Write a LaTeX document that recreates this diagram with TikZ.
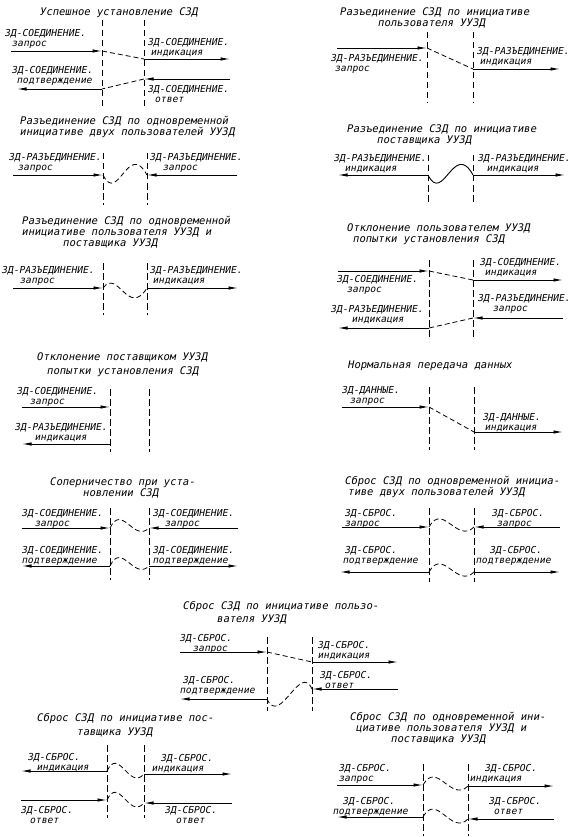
\documentclass[tikz,border=0pt]{standalone}
\usepackage{fontspec}
\newfontfamily\gost{DejaVu Sans Mono}
\usetikzlibrary{arrows.meta}

\begin{document}
\begin{tikzpicture}[x=1pt, y=-1pt,
    every node/.style={inner sep=0pt},
    ttl/.style={font=\gost\itshape\fontsize{10.5}{11}\selectfont, align=left, anchor=north west},
    lbl/.style={font=\gost\itshape\fontsize{9.6}{10}\selectfont, align=left, anchor=north west},
    vline/.style={line width=0.6pt, dash pattern=on 6.5pt off 3.5pt},
    msg/.style={-{Latex[length=9.5pt,width=3.4pt]}, line width=0.9pt},
    link/.style={line width=0.8pt, dash pattern=on 5pt off 3pt},
  ]
  \useasboundingbox[fill=white] (0,0) rectangle (586,837);

  % Успешное установление
  \node[ttl] (aT) at (40,8) {Успешное установление СЗД};
  \coordinate (aP) at (102,20); \coordinate (aQ) at (102,108);
  \coordinate (aR) at (144,20); \coordinate (aS) at (144,108);
  \draw[vline] (aP) -- (aQ); \draw[vline] (aR) -- (aS);
  \coordinate (a1) at (11,51);  \coordinate (a2) at (102,51);
  \coordinate (a3) at (144,59); \coordinate (a4) at (230,59);
  \coordinate (a5) at (230,79); \coordinate (a6) at (144,79);
  \coordinate (a7) at (102,89); \coordinate (a8) at (17,89);
  \draw[msg] (a1) -- (a2); \draw[link] (a2) -- (a3); \draw[msg] (a3) -- (a4);
  \draw[msg] (a5) -- (a6); \draw[link] (a6) -- (a7); \draw[msg] (a7) -- (a8);
  \node[lbl] (aA) at (5,29.5) {ЗД-СОЕДИНЕНИЕ.\\\hspace*{7pt}запрос};
  \node[lbl] (aB) at (148,38.5) {ЗД-СОЕДИНЕНИЕ.\\\hspace*{3pt}индикация};
  \node[lbl] (aC) at (12,66.5) {ЗД-СОЕДИНЕНИЕ.\\\hspace*{5pt}подтверждение};
  \node[lbl] (aD) at (148,85.5) {ЗД-СОЕДИНЕНИЕ.\\\hspace*{7pt}ответ};

  % Разъединение по инициативе пользователя
  \node[ttl] (bT) at (340,8) {Разъединение СЗД по инициативе\\\hspace*{38pt}пользователя УУЗД};
  \coordinate (bP) at (427,32); \coordinate (bQ) at (427,103);
  \coordinate (bR) at (473,32); \coordinate (bS) at (473,103);
  \draw[vline] (bP) -- (bQ); \draw[vline] (bR) -- (bS);
  \coordinate (b1) at (337,48); \coordinate (b2) at (427,48);
  \coordinate (b3) at (473,69); \coordinate (b4) at (560,69);
  \draw[msg] (b1) -- (b2); \draw[link] (b2) -- (b3); \draw[msg] (b3) -- (b4);
  \node[lbl] (bA) at (331,54.5) {ЗД-РАЗЪЕДИНЕНИЕ.\\\hspace*{4pt}запрос};
  \node[lbl] (bB) at (477,47.5) {ЗД-РАЗЪЕДИНЕНИЕ.\\\hspace*{3pt}индикация};

  % Разъединение двух пользователей
  \node[ttl] (cT) at (20,116) {Разъединение СЗД по одновременной\\инициативе двух пользователей УУЗД};
  \coordinate (cP) at (103,153); \coordinate (cQ) at (103,205);
  \coordinate (cR) at (147,153); \coordinate (cS) at (147,205);
  \draw[vline] (cP) -- (cQ); \draw[vline] (cR) -- (cS);
  \coordinate (c1) at (13,175);  \coordinate (c2) at (103,175);
  \coordinate (c3) at (237,175); \coordinate (c4) at (147,175);
  \draw[msg] (c1) -- (c2); \draw[msg] (c3) -- (c4);
  \draw[link] (c2) .. controls +(15,30) and +(-19,-35) .. (c4);
  \node[lbl] (cA) at (9,153.5) {ЗД-РАЗЪЕДИНЕНИЕ.\\\hspace*{9pt}запрос};
  \node[lbl] (cB) at (150,153.5) {ЗД-РАЗЪЕДИНЕНИЕ.\\\hspace*{13pt}запрос};

  % Разъединение по инициативе поставщика
  \node[ttl] (dT) at (347,125) {Разъединение СЗД по инициативе\\\hspace*{30pt}поставщика УУЗД};
  \coordinate (dP) at (428,155); \coordinate (dQ) at (428,203);
  \coordinate (dR) at (473,155); \coordinate (dS) at (473,203);
  \draw[vline] (dP) -- (dQ); \draw[vline] (dR) -- (dS);
  \coordinate (d1) at (428,175); \coordinate (d2) at (338,175);
  \coordinate (d3) at (473,175); \coordinate (d4) at (565,175);
  \draw[msg] (d1) -- (d2); \draw[msg] (d3) -- (d4);
  \draw[line width=0.9pt] (d1) .. controls +(15,30) and +(-19,-35) .. (d3);
  \node[lbl] (dA) at (334,154.5) {ЗД-РАЗЪЕДИНЕНИЕ.\\\hspace*{11pt}индикация};
  \node[lbl] (dB) at (478,154.5) {ЗД-РАЗЪЕДИНЕНИЕ.\\\hspace*{9pt}индикация};

  % Разъединение пользователя и поставщика
  \node[ttl] (eT) at (22,216) {Разъединение СЗД по одновременной\\инициативе пользователя УУЗД и\\\hspace*{41pt}поставщика УУЗД};
  \coordinate (eP) at (103,263); \coordinate (eQ) at (103,315);
  \coordinate (eR) at (147,263); \coordinate (eS) at (147,315);
  \draw[vline] (eP) -- (eQ); \draw[vline] (eR) -- (eS);
  \coordinate (e1) at (13,288);  \coordinate (e2) at (103,288);
  \coordinate (e3) at (147,288); \coordinate (e4) at (238,288);
  \draw[msg] (e1) -- (e2); \draw[msg] (e3) -- (e4);
  \draw[link] (e2) .. controls +(15,-20) and +(-19,30) .. (e3);
  \node[lbl] (eA) at (2,266.5) {ЗД-РАЗЪЕДИНЕНИЕ.\\\hspace*{18pt}запрос};
  \node[lbl] (eB) at (150,266.5) {ЗД-РАЗЪЕДИНЕНИЕ.\\\hspace*{3pt}индикация};

  % Отклонение пользователем
  \node[ttl] (fT) at (347,224) {Отклонение пользователем УУЗД\\\hspace*{6pt}попытки установления СЗД};
  \coordinate (fP) at (429,260); \coordinate (fQ) at (429,337);
  \coordinate (fR) at (473,260); \coordinate (fS) at (473,337);
  \draw[vline] (fP) -- (fQ); \draw[vline] (fR) -- (fS);
  \coordinate (f1) at (338,271); \coordinate (f2) at (429,271);
  \coordinate (f3) at (473,280); \coordinate (f4) at (563,280);
  \coordinate (f5) at (563,318); \coordinate (f6) at (473,318);
  \coordinate (f7) at (429,328); \coordinate (f8) at (338,328);
  \draw[msg] (f1) -- (f2); \draw[link] (f2) -- (f3); \draw[msg] (f3) -- (f4);
  \draw[msg] (f5) -- (f6); \draw[link] (f6) -- (f7); \draw[msg] (f7) -- (f8);
  \node[lbl] (fA) at (337,275.5) {ЗД-СОЕДИНЕНИЕ.\\\hspace*{10pt}запрос};
  \node[lbl] (fB) at (480,258.5) {ЗД-СОЕДИНЕНИЕ.\\\hspace*{5pt}индикация};
  \node[lbl] (fC) at (478,294.5) {ЗД-РАЗЪЕДИНЕНИЕ.\\\hspace*{15pt}запрос};
  \node[lbl] (fD) at (331,305.5) {ЗД-РАЗЪЕДИНЕНИЕ.\\\hspace*{21pt}индикация};

  % Отклонение поставщиком
  \node[ttl] (gT) at (37,353) {Отклонение поставщиком УУЗД\\[3pt]\hspace*{10pt}попытки установления СЗД};
  \coordinate (gP) at (110,389); \coordinate (gQ) at (110,452);
  \coordinate (gR) at (149,389); \coordinate (gS) at (149,452);
  \draw[vline] (gP) -- (gQ); \draw[vline] (gR) -- (gS);
  \coordinate (g1) at (22,407);  \coordinate (g2) at (110,407);
  \coordinate (g3) at (110,444); \coordinate (g4) at (22,444);
  \draw[msg] (g1) -- (g2); \draw[msg] (g3) -- (g4);
  \node[lbl] (gA) at (17,387.5) {ЗД-СОЕДИНЕНИЕ.\\\hspace*{13pt}запрос};
  \node[lbl] (gB) at (15,423.5) {ЗД-РАЗЪЕДИНЕНИЕ.\\\hspace*{20pt}индикация};

  % Нормальная передача данных
  \node[ttl] (hT) at (348,361) {Нормальная передача данных};
  \coordinate (hP) at (429,387); \coordinate (hQ) at (429,450);
  \coordinate (hR) at (474,387); \coordinate (hS) at (474,450);
  \draw[vline] (hP) -- (hQ); \draw[vline] (hR) -- (hS);
  \coordinate (h1) at (342,407); \coordinate (h2) at (429,407);
  \coordinate (h3) at (474,432); \coordinate (h4) at (563,432);
  \draw[msg] (h1) -- (h2); \draw[link] (h2) -- (h3); \draw[msg] (h3) -- (h4);
  \node[lbl] (hA) at (342,386.5) {ЗД-ДАННЫЕ.\\\hspace*{8pt}запрос};
  \node[lbl] (hB) at (483,413) {ЗД-ДАННЫЕ.\\\hspace*{2pt}индикация};

  % Соперничество
  \node[ttl] (iT) at (50,478) {Соперничество при уста-\\\hspace*{33pt}новлении СЗД};
  \coordinate (iP) at (110,508); \coordinate (iQ) at (110,580);
  \coordinate (iR) at (149,508); \coordinate (iS) at (149,580);
  \draw[vline] (iP) -- (iQ); \draw[vline] (iR) -- (iS);
  \coordinate (i1) at (22,528);  \coordinate (i2) at (110,528);
  \coordinate (i3) at (238,528); \coordinate (i4) at (149,528);
  \coordinate (i5) at (110,566); \coordinate (i6) at (22,566);
  \coordinate (i7) at (149,566); \coordinate (i8) at (238,566);
  \draw[msg] (i1) -- (i2); \draw[msg] (i3) -- (i4);
  \draw[link] (i2) .. controls +(12,-25) and +(-15,15) .. (i4);
  \draw[msg] (i5) -- (i6); \draw[msg] (i7) -- (i8);
  \draw[link] (i5) .. controls +(12,-25) and +(-15,15) .. (i7);
  \node[lbl] (iA) at (22,509.5) {ЗД-СОЕДИНЕНИЕ.\\\hspace*{13pt}запрос};
  \node[lbl] (iB) at (153,509.5) {ЗД-СОЕДИНЕНИЕ.\\\hspace*{12pt}запрос};
  \node[lbl] (iC) at (22,546.5) {ЗД-СОЕДИНЕНИЕ.\\подтверждение};
  \node[lbl] (iD) at (153,546.5) {ЗД-СОЕДИНЕНИЕ.\\подтверждение};

  % Сброс двух пользователей
  \node[ttl] (jT) at (345,476) {Сброс СЗД по одновременной инициа-\\\hspace*{3pt}тиве двух пользователей УУЗД};
  \coordinate (jP) at (429,508); \coordinate (jQ) at (429,582);
  \coordinate (jR) at (474,508); \coordinate (jS) at (474,582);
  \draw[vline] (jP) -- (jQ); \draw[vline] (jR) -- (jS);
  \coordinate (j1) at (342,527); \coordinate (j2) at (429,527);
  \coordinate (j3) at (560,527); \coordinate (j4) at (474,527);
  \coordinate (j5) at (429,572); \coordinate (j6) at (340,572);
  \coordinate (j7) at (474,572); \coordinate (j8) at (560,572);
  \draw[msg] (j1) -- (j2); \draw[msg] (j3) -- (j4);
  \draw[link] (j2) .. controls +(14,-25) and +(-17,17) .. (j4);
  \draw[msg] (j5) -- (j6); \draw[msg] (j7) -- (j8);
  \draw[link] (j5) .. controls +(14,-25) and +(-17,17) .. (j7);
  \node[lbl] (jA) at (345,509.5) {ЗД-СБРОС.\\запрос};
  \node[lbl] (jB) at (492,509.5) {ЗД-СБРОС.\\\hspace*{5pt}запрос};
  \node[lbl] (jC) at (343,546.5) {\hspace*{2pt}ЗД-СБРОС.\\подтверждение};
  \node[lbl] (jD) at (476,546.5) {\hspace*{14pt}ЗД-СБРОС.\\подтверждение};

  % Сброс по инициативе пользователя
  \node[ttl] (kT) at (183,601) {Сброс СЗД по инициативе пользо-\\[2pt]\hspace*{34pt}вателя УУЗД};
  \coordinate (kP) at (267,637); \coordinate (kQ) at (267,711);
  \coordinate (kR) at (312,637); \coordinate (kS) at (312,711);
  \draw[vline] (kP) -- (kQ); \draw[vline] (kR) -- (kS);
  \coordinate (k1) at (180,652); \coordinate (k2) at (267,652);
  \coordinate (k3) at (312,662); \coordinate (k4) at (398,662);
  \coordinate (k5) at (398,689); \coordinate (k6) at (312,689);
  \coordinate (k7) at (267,699); \coordinate (k8) at (180,699);
  \draw[msg] (k1) -- (k2); \draw[link] (k2) -- (k3); \draw[msg] (k3) -- (k4);
  \draw[msg] (k5) -- (k6); \draw[msg] (k7) -- (k8);
  \draw[link] (k6) .. controls (300,662) and (280,727) .. (k7);
  \node[lbl] (kA) at (180,634.5) {ЗД-СБРОС.\\\hspace*{13pt}запрос};
  \node[lbl] (kB) at (318,641.5) {ЗД-СБРОС.\\индикация};
  \node[lbl] (kC) at (320,671.5) {ЗД-СБРОС.\\\hspace*{5pt}ответ};
  \node[lbl] (kD) at (180,676.5) {\hspace*{3pt}ЗД-СБРОС.\\подтверждение};

  % Сброс по инициативе поставщика
  \node[ttl] (lT) at (37,713) {Сброс СЗД по инициативе пос-\\[3pt]\hspace*{40pt}тавщика УУЗД};
  \coordinate (lP) at (107,745); \coordinate (lQ) at (107,818);
  \coordinate (lR) at (144,745); \coordinate (lS) at (144,818);
  \draw[vline] (lP) -- (lQ); \draw[vline] (lR) -- (lS);
  \coordinate (l1) at (107,771); \coordinate (l2) at (21,771);
  \coordinate (l3) at (144,774); \coordinate (l4) at (232,774);
  \coordinate (l5) at (21,800);  \coordinate (l6) at (107,800);
  \coordinate (l7) at (144,803); \coordinate (l8) at (232,803);
  \draw[msg] (l1) -- (l2); \draw[msg] (l3) -- (l4);
  \draw[link] (l1) .. controls +(12,-25) and +(-15,17) .. (l3);
  \draw[msg] (l5) -- (l6); \draw[msg] (l8) -- (l7);
  \draw[link] (l6) .. controls +(12,-25) and +(-15,17) .. (l7);
  \node[lbl] (lA) at (28,753) {ЗД-СБРОС.\\\hspace*{9pt}индикация};
  \node[lbl] (lB) at (152,754) {\hspace*{9pt}ЗД-СБРОС.\\индикация};
  \node[lbl] (lC) at (21,806) {ЗД-СБРОС.\\\hspace*{9pt}ответ};
  \node[lbl] (lD) at (165,806) {ЗД-СБРОС.\\\hspace*{11pt}ответ};

  % Сброс пользователя и поставщика
  \node[ttl] (mT) at (350,712) {Сброс СЗД по одновременной ини-\\\hspace*{6pt}циативе пользователя УУЗД и\\\hspace*{41pt}поставщика УУЗД};
  \coordinate (mP) at (423,764); \coordinate (mQ) at (423,836);
  \coordinate (mR) at (468,764); \coordinate (mS) at (468,836);
  \draw[vline] (mP) -- (mQ); \draw[vline] (mR) -- (mS);
  \coordinate (m1) at (337,785); \coordinate (m2) at (423,785);
  \coordinate (m3) at (468,786); \coordinate (m4) at (554,786);
  \coordinate (m5) at (423,817); \coordinate (m6) at (337,817);
  \coordinate (m7) at (468,819); \coordinate (m8) at (554,819);
  \draw[msg] (m1) -- (m2); \draw[msg] (m3) -- (m4);
  \draw[link] (m2) .. controls +(14,-25) and +(-17,17) .. (m3);
  \draw[msg] (m5) -- (m6); \draw[msg] (m8) -- (m7);
  \draw[link] (m5) .. controls +(14,-25) and +(-17,17) .. (m7);
  \node[lbl] (mA) at (339,764.5) {ЗД-СБРОС.\\запрос};
  \node[lbl] (mB) at (470,764.5) {\hspace*{15pt}ЗД-СБРОС.\\индикация};
  \node[lbl] (mC) at (333,797.5) {\hspace*{10pt}ЗД-СБРОС.\\подтверждение};
  \node[lbl] (mD) at (489,797.5) {ЗД-СБРОС.\\\hspace*{5pt}ответ};
\end{tikzpicture}
\end{document}
